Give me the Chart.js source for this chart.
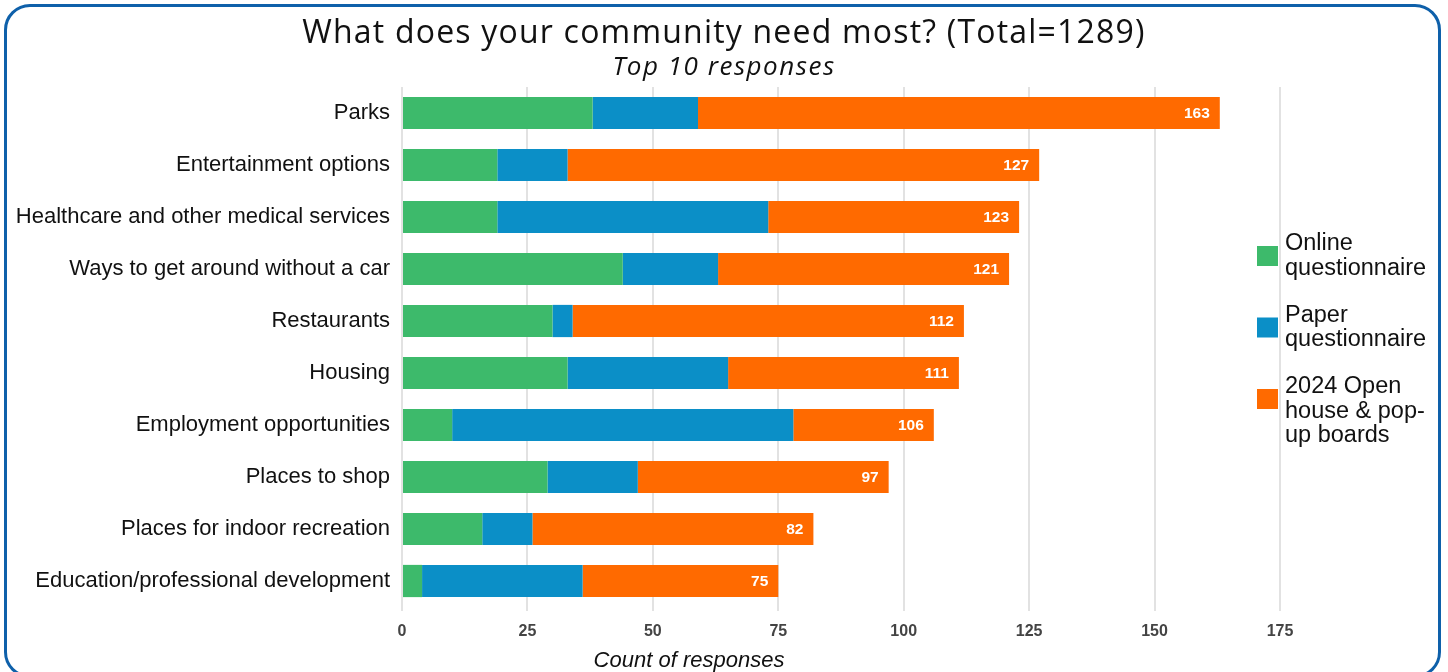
<!DOCTYPE html>
<html>
<head>
<meta charset="utf-8">
<script src="https://cdn.jsdelivr.net/npm/chart.js@4"></script>
<style>
  html, body { margin: 0; padding: 0; background: #fff; overflow: hidden; }
  #wrap { position: relative; width: 1448px; height: 672px; }
  #frame {
    position: absolute; left: 4px; top: 4px; width: 1431px; height: 668px;
    border: 3px solid #0e60aa; border-radius: 26px; pointer-events: none;
  }
</style>
</head>
<body>
<div id="wrap">
  <canvas id="needsChart" width="1448" height="672"></canvas>
  <div id="frame"></div>
</div>
<script>
const categories = [
  'Parks',
  'Entertainment options',
  'Healthcare and other medical services',
  'Ways to get around without a car',
  'Restaurants',
  'Housing',
  'Employment opportunities',
  'Places to shop',
  'Places for indoor recreation',
  'Education/professional development'
];
const onlineValues = [38, 19, 19, 44, 30, 33, 10, 29, 16, 4];
const paperValues  = [21, 14, 54, 19, 4, 32, 68, 18, 10, 32];
const openHouseValues = [104, 94, 50, 58, 78, 46, 28, 50, 56, 39];
const seriesNames = ['Online questionnaire', 'Paper questionnaire', '2024 Open house & pop-up boards'];
const legendLines = [['Online', 'questionnaire'], ['Paper', 'questionnaire'], ['2024 Open', 'house & pop-', 'up boards']];
const seriesColors = ['#3dba6b', '#0b8fc7', '#ff6a00'];
const xTicks = [0, 25, 50, 75, 100, 125, 150, 175];

const chartTitle = 'What does your community need most? (Total=1289)';
const chartSubtitle = 'Top 10 responses';

// titles, totals at the end of each bar, multi-line legend, axis title
const extrasPlugin = {
    id: 'extras',
    afterDatasetsDraw(chart) {
        const ctx = chart.ctx;
        const xs = chart.scales.x;
        const ys = chart.scales.y;
        ctx.save();
        ctx.font = 'bold 15.5px "Liberation Sans", Arial, sans-serif';
        ctx.fillStyle = '#ffffff';
        ctx.textAlign = 'right';
        ctx.textBaseline = 'middle';
        categories.forEach((c, i) => {
            const total = onlineValues[i] + paperValues[i] + openHouseValues[i];
            ctx.fillText(String(total), xs.getPixelForValue(total) - 10, ys.getPixelForValue(i) + 1);
        });
        ctx.restore();
    },
    afterDraw(chart) {
        const ctx = chart.ctx;
        const mid = chart.width / 2;
        ctx.save();
        ctx.fillStyle = '#111';
        ctx.textAlign = 'center';
        ctx.textBaseline = 'middle';
        ctx.letterSpacing = '1.2px';
        ctx.font = '32px "Open Sans", sans-serif';
        ctx.fillText(chartTitle, mid, 34);
        ctx.letterSpacing = '1.5px';
        ctx.font = 'italic 26px "Open Sans", sans-serif';
        ctx.fillText(chartSubtitle, mid, 68);
        ctx.letterSpacing = '0px';

        // legend
        ctx.font = '23.5px "Liberation Sans", Arial, sans-serif';
        ctx.textAlign = 'left';
        let y = 244;
        legendLines.forEach((lines, i) => {
            ctx.fillStyle = seriesColors[i];
            ctx.fillRect(1257, y + 2, 21, 20);
            ctx.fillStyle = '#111';
            lines.forEach((ln, j) => ctx.fillText(ln, 1285, y + j * 24.5));
            y += 71.5;
        });
        // x axis title
        ctx.font = 'italic 22px "Liberation Sans", Arial, sans-serif';
        ctx.textAlign = 'center';
        ctx.fillText('Count of responses', 689, 661);
        ctx.restore();
    }
};

new Chart(document.getElementById('needsChart').getContext('2d'), {
    type: 'bar',
    data: {
        labels: categories,
        datasets: [
            { label: seriesNames[0], data: onlineValues, backgroundColor: seriesColors[0] },
            { label: seriesNames[1], data: paperValues, backgroundColor: seriesColors[1] },
            { label: seriesNames[2], data: openHouseValues, backgroundColor: seriesColors[2] }
        ]
    },
    options: {
        indexAxis: 'y',
        responsive: false,
        animation: false,
        barPercentage: 0.62,
        categoryPercentage: 1,
        layout: { padding: { left: 0, right: 168, top: 87, bottom: 0 } },
        plugins: {
            legend: { display: false },
            tooltip: { enabled: false },
            title: { display: false },
            subtitle: { display: false }
        },
        scales: {
            x: {
                stacked: true,
                min: 0,
                max: 175,
                afterBuildTicks: (scale) => { scale.ticks = xTicks.map(v => ({ value: v })); },
                afterFit: (scale) => { scale.height = 65; },
                border: { display: false },
                grid: { color: '#e2e2e2', lineWidth: 2, drawTicks: true, tickLength: 4, tickColor: '#e2e2e2' },
                ticks: {
                    color: '#444',
                    padding: 11,
                    font: { family: '"Liberation Sans", Arial, sans-serif', size: 16, weight: 'bold' }
                }
            },
            y: {
                stacked: true,
                afterFit: (scale) => { scale.width = 402; },
                border: { display: false },
                grid: { display: false, drawTicks: false },
                ticks: {
                    color: '#111',
                    padding: 12,
                    font: { family: '"Liberation Sans", Arial, sans-serif', size: 22 }
                }
            }
        }
    },
    plugins: [extrasPlugin]
});
</script>
</body>
</html>
